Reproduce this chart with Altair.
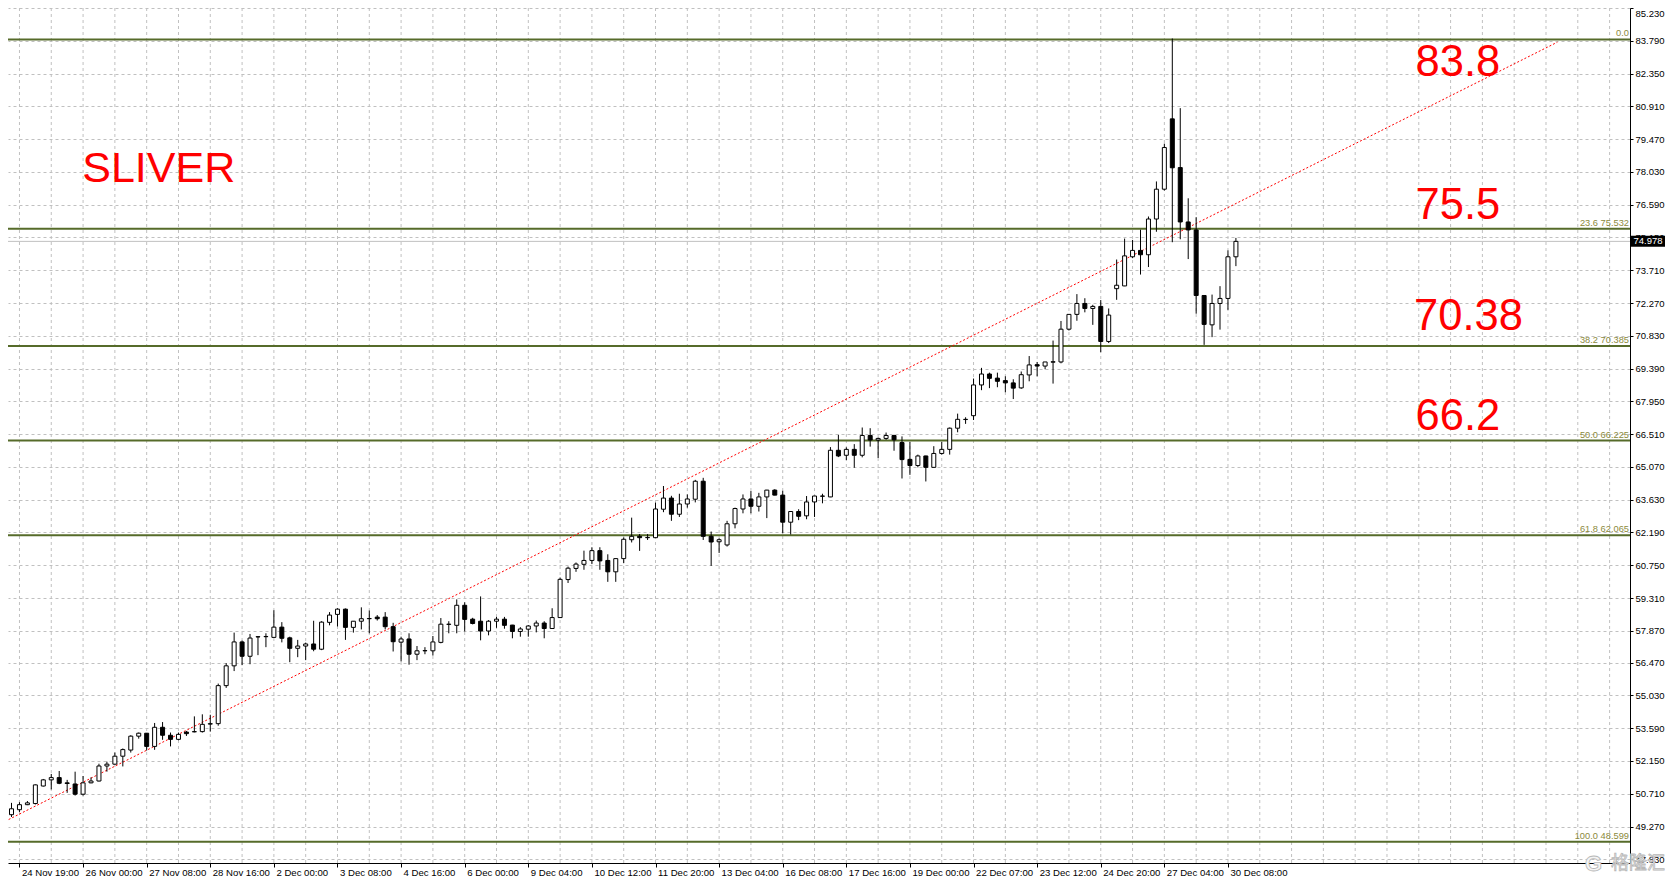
import altair as alt
import pandas as pd

# ---------------- data ----------------
bar_index = list(range(-1, 155))
opens = [49.70, 49.79, 50.01, 50.23, 50.28, 51.05, 51.32, 51.42, 51.19, 51.14,
         50.69, 51.19, 51.27, 51.93, 52.01, 52.36, 52.63, 53.24, 53.37, 52.79,
         53.63, 53.28, 53.10, 53.42, 53.43, 53.44, 53.77, 53.79, 55.46, 56.33,
         57.38, 56.75, 57.60, 57.61, 57.58, 58.03, 57.56, 57.10, 57.20, 57.29,
         57.06, 58.24, 58.59, 58.82, 58.02, 58.29, 58.40, 58.47, 58.47, 58.05,
         57.37, 57.51, 56.84, 56.99, 56.99, 57.36, 58.15, 58.11, 58.99, 58.38,
         58.29, 57.86, 58.29, 58.38, 58.12, 57.84, 57.94, 58.08, 58.21, 57.97,
         58.45, 60.12, 60.61, 60.79, 60.96, 61.39, 60.96, 60.46, 61.04, 61.87,
         62.02, 61.96, 61.96, 63.21, 63.70, 62.99, 63.44, 63.65, 64.44, 62.02,
         61.78, 61.64, 62.57, 63.22, 63.66, 63.34, 63.75, 64.05, 63.83, 62.64,
         63.11, 62.92, 63.53, 63.78, 63.75, 65.80, 65.58, 65.84, 65.58, 66.45,
         66.25, 66.32, 66.45, 66.14, 65.40, 65.13, 65.55, 65.05, 65.66, 65.84,
         66.77, 67.15, 67.32, 68.67, 69.15, 68.97, 68.86, 68.76, 68.54, 69.11,
         69.56, 69.50, 69.67, 69.68, 71.12, 71.77, 72.25, 72.03, 72.12, 70.58,
         72.90, 73.02, 74.30, 74.58, 74.39, 75.96, 77.27, 80.36, 78.22, 75.83,
         75.48, 72.60, 71.31, 72.25, 72.47, 74.30]
highs = [49.95, 50.31, 50.34, 50.39, 51.12, 51.36, 51.58, 51.71, 51.32, 51.68,
         51.49, 51.43, 52.03, 52.12, 52.52, 52.70, 53.28, 53.40, 53.38, 53.82,
         53.86, 53.40, 53.40, 53.47, 54.11, 54.20, 54.18, 55.55, 56.45, 57.79,
         57.44, 57.73, 57.64, 57.76, 58.77, 58.25, 57.61, 57.47, 57.35, 58.31,
         58.29, 58.69, 58.86, 58.85, 58.30, 58.90, 58.76, 58.56, 58.69, 58.22,
         57.61, 57.76, 57.20, 57.15, 57.64, 58.43, 58.29, 59.25, 59.12, 58.44,
         59.38, 58.34, 58.48, 58.48, 58.13, 58.03, 58.12, 58.32, 58.29, 58.86,
         60.21, 60.69, 60.87, 61.39, 61.54, 61.54, 61.23, 61.05, 61.97, 62.84,
         62.12, 62.12, 63.50, 64.23, 63.80, 63.89, 63.86, 64.50, 64.59, 62.23,
         61.93, 62.70, 63.28, 63.86, 64.01, 63.93, 64.06, 64.09, 64.02, 63.12,
         63.21, 63.79, 63.80, 63.89, 65.94, 66.48, 65.93, 66.07, 66.80, 66.77,
         66.36, 66.58, 66.48, 66.41, 66.16, 65.61, 65.56, 65.98, 66.16, 66.80,
         67.41, 67.25, 68.95, 69.42, 69.21, 69.21, 69.05, 68.92, 69.26, 69.94,
         69.68, 69.68, 70.62, 71.48, 71.78, 72.66, 72.48, 72.19, 72.40, 72.03,
         74.18, 75.10, 75.04, 75.49, 76.07, 77.61, 79.27, 83.89, 80.83, 76.87,
         76.04, 72.61, 72.64, 73.01, 74.58, 75.13]
lows = [49.55, 49.69, 49.91, 50.21, 50.24, 51.03, 50.90, 51.13, 50.75, 50.63,
        50.63, 51.17, 51.25, 51.68, 51.99, 51.91, 52.52, 53.13, 52.61, 52.64,
        53.08, 52.79, 53.06, 53.25, 53.41, 53.40, 53.44, 53.70, 55.36, 56.10,
        56.36, 56.40, 56.80, 57.15, 57.56, 57.36, 56.49, 56.71, 56.58, 56.97,
        57.02, 58.11, 58.06, 57.47, 57.79, 57.93, 57.76, 58.32, 57.93, 56.96,
        56.52, 56.38, 56.58, 56.84, 56.78, 57.32, 57.76, 57.76, 57.84, 58.15,
        57.45, 57.67, 58.00, 57.96, 57.54, 57.61, 57.61, 57.80, 57.54, 57.96,
        58.44, 59.97, 60.46, 60.55, 60.80, 60.55, 60.02, 60.02, 60.84, 61.75,
        61.38, 61.86, 61.95, 63.08, 62.70, 62.87, 63.28, 63.51, 61.86, 60.72,
        61.29, 61.57, 62.37, 63.03, 63.03, 63.11, 62.82, 63.82, 62.15, 62.10,
        62.73, 62.77, 62.87, 63.47, 63.74, 65.50, 65.37, 65.03, 65.49, 65.96,
        65.46, 66.26, 65.78, 64.56, 64.72, 65.05, 64.43, 65.04, 65.61, 65.61,
        66.59, 66.96, 67.13, 68.44, 68.53, 68.57, 68.35, 68.05, 68.50, 68.83,
        69.05, 69.36, 68.73, 69.62, 71.06, 71.49, 71.86, 71.31, 70.11, 70.51,
        72.41, 73.01, 74.24, 73.52, 73.85, 75.40, 77.21, 74.94, 75.07, 74.20,
        71.80, 70.43, 70.77, 71.10, 71.97, 73.89]
closes = [49.85, 50.05, 50.23, 50.31, 51.10, 51.32, 51.42, 51.17, 51.16, 50.69,
          51.19, 51.27, 51.93, 52.01, 52.36, 52.65, 53.24, 53.37, 52.79, 53.63,
          53.28, 53.10, 53.32, 53.35, 53.44, 53.76, 53.79, 55.46, 56.33, 57.38,
          56.75, 57.55, 57.61, 57.62, 58.03, 57.54, 57.10, 57.20, 57.29, 57.06,
          58.25, 58.56, 58.82, 58.02, 58.29, 58.40, 58.41, 58.40, 58.05, 57.39,
          57.51, 56.84, 56.99, 57.00, 57.38, 58.16, 58.16, 58.99, 58.37, 58.19,
          57.86, 58.29, 58.38, 58.11, 57.84, 57.95, 58.08, 58.21, 57.97, 58.45,
          60.13, 60.62, 60.80, 60.96, 61.39, 60.94, 60.46, 61.04, 61.89, 62.02,
          61.96, 61.97, 63.22, 63.70, 62.99, 63.44, 63.66, 64.44, 62.02, 61.77,
          61.87, 62.57, 63.24, 63.66, 63.34, 63.75, 64.05, 63.83, 62.64, 63.11,
          62.90, 63.53, 63.79, 63.79, 65.80, 65.55, 65.84, 65.58, 66.45, 66.25,
          66.32, 66.45, 66.26, 65.39, 65.13, 65.55, 65.05, 65.66, 65.84, 66.77,
          67.16, 67.16, 68.67, 69.15, 68.96, 68.83, 68.76, 68.53, 69.12, 69.55,
          69.50, 69.68, 69.69, 71.12, 71.77, 72.25, 72.03, 72.12, 70.58, 71.74,
          73.05, 74.34, 74.58, 74.39, 75.96, 77.27, 79.10, 78.21, 75.83, 75.48,
          72.60, 71.33, 72.25, 72.47, 74.30, 74.978]

fib_pct = ["0.0", "23.6", "38.2", "50.0", "61.8", "100.0"]
fib_price = [83.851, 75.532, 70.385, 66.225, 62.065, 48.599]

trend_index = [-0.81, 194.44]
trend_price = [49.50, 83.73]

last_price = 74.978

xtick_index = [1, 9, 17, 25, 33, 41, 49, 57, 65, 73, 81, 89, 97, 105, 113,
               121, 129, 137, 145, 153]
xtick_labels = ["24 Nov 19:00", "26 Nov 00:00", "27 Nov 08:00", "28 Nov 16:00",
                "2 Dec 00:00", "3 Dec 08:00", "4 Dec 16:00", "6 Dec 00:00",
                "9 Dec 04:00", "10 Dec 12:00", "11 Dec 20:00", "13 Dec 04:00",
                "16 Dec 08:00", "17 Dec 16:00", "19 Dec 00:00", "22 Dec 07:00",
                "23 Dec 12:00", "24 Dec 20:00", "27 Dec 04:00", "30 Dec 08:00"]
vgrid_index = list(range(1, 202, 4))

ytick_labels = ["47.830", "49.270", "50.710", "52.150", "53.590", "55.030",
                "56.470", "57.870", "59.310", "60.750", "62.190", "63.630",
                "65.070", "66.510", "67.950", "69.390", "70.830", "72.270",
                "73.710", "75.150", "76.590", "78.030", "79.470", "80.910",
                "82.350", "83.790", "85.230"]

title_text = ["SLIVER"]
title_index = [8.9]
title_price = [77.58]

note_text = ["83.8", "75.5", "70.38", "66.2"]
note_index = [176.6, 176.6, 176.4, 176.6]
note_price = [82.25, 75.98, 71.10, 66.68]

watermark_logo = ["G"]
watermark = ["格隆汇"]

# ---------------- tables ----------------
candles = pd.DataFrame({"k": bar_index, "o": opens, "h": highs, "l": lows, "c": closes})
candles["fill"] = ["white" if c >= o else "black" for o, c in zip(opens, closes)]
fib = pd.DataFrame({"v": fib_price,
                    "label": [f"{p} {v:.3f}" if p != "0.0" else p for p, v in zip(fib_pct, fib_price)]})
trend = pd.DataFrame({"k": trend_index, "v": trend_price})
vgrid = pd.DataFrame({"k": vgrid_index})
lastdf = pd.DataFrame({"v": [last_price], "t": [f"{last_price:.3f}"]})
titledf = pd.DataFrame({"k": title_index, "v": title_price, "t": title_text})
notedf = pd.DataFrame({"k": note_index, "v": note_price, "t": note_text})
wmdf = pd.DataFrame({"t": watermark})
wlogodf = pd.DataFrame({"t": watermark_logo})

W, H = 1622, 855
FONT = "Liberation Sans"

xscale = alt.Scale(domain=[0.1875, 202.9375], nice=False, zero=False)
yscale = alt.Scale(domain=[47.668, 85.23], nice=False, zero=False)

label_array = "[" + ",".join("'" + s + "'" for s in xtick_labels) + "]"
xaxis = alt.Axis(values=xtick_index, grid=False, domainColor="black", domainWidth=1,
                 tickColor="black", tickSize=4, labelAlign="left", labelBaseline="top",
                 labelPadding=0, labelOffset=2, labelFont=FONT, labelFontSize=9.6,
                 labelColor="black", labelOverlap=False, labelFlush=False,
                 labelBound=False, title=None,
                 labelExpr=label_array + "[round((datum.value - 1) / 8)]")
yaxis = alt.Axis(orient="right", values=[float(s) for s in ytick_labels], format=".3f",
                 grid=True, gridColor="#c0c0c0", gridDash=[3, 3], gridWidth=1,
                 domainColor="black", domainWidth=1, tickColor="black", tickSize=3,
                 labelFont=FONT, labelFontSize=9.5, labelColor="black", labelPadding=2,
                 labelOverlap=False, labelFlush=True, title=None)

X = lambda f: alt.X(f, type="quantitative", scale=xscale, axis=xaxis)
Y = lambda f: alt.Y(f, type="quantitative", scale=yscale, axis=yaxis)

base_grid = alt.Chart(vgrid).mark_rule(color="#c0c0c0", strokeDash=[3, 3], strokeWidth=1).encode(
    x=X("k"))

fib_lines = alt.Chart(fib).mark_rule(color="#566b2a", strokeWidth=2).encode(y=Y("v"))
fib_labels = alt.Chart(fib).mark_text(align="right", baseline="alphabetic", dy=-3,
                                      font=FONT, fontSize=9.3, color="#8c8a3c").encode(
    y=Y("v"), x=alt.value(W - 1), text="label:N")

last_line = alt.Chart(lastdf).mark_rule(color="#c0c0c0", strokeWidth=1).encode(y=Y("v"))

trend_line = alt.Chart(trend).mark_line(color="#ff0000", strokeDash=[2, 2], strokeWidth=1,
                                        clip=True).encode(x=X("k"), y=Y("v"))

wicks = alt.Chart(candles).mark_rule(color="black", strokeWidth=1, clip=True).encode(
    x=X("k"), y=Y("l"), y2="h")
bodies = alt.Chart(candles).mark_bar(size=4, stroke="black", strokeWidth=1, clip=True).encode(
    x=X("k"), y=Y("o"), y2="c", color=alt.Color("fill:N", scale=None))

title_layer = alt.Chart(titledf).mark_text(align="left", baseline="alphabetic", font=FONT,
                                           fontSize=43, color="#ff0000").encode(
    x=X("k"), y=Y("v"), text="t:N")
note_layer = alt.Chart(notedf).mark_text(align="left", baseline="alphabetic", font=FONT,
                                         fontSize=43.5, color="#ff0000").encode(
    x=X("k"), y=Y("v"), text="t:N")

price_box = alt.Chart(lastdf).mark_rule(color="black", strokeWidth=11).encode(
    y=Y("v"), x=alt.value(W + 1), x2=alt.value(W + 35))
price_text = alt.Chart(lastdf).mark_text(align="center", baseline="middle", font=FONT,
                                         fontSize=9.5, color="white").encode(
    y=Y("v"), x=alt.value(W + 18), text="t:N")

wm_logo = alt.Chart(wlogodf).mark_text(align="left", baseline="middle", font=FONT,
                                       fontSize=22, fontWeight="bold", fill="#f4f4f4",
                                       stroke="#b8b8b8", strokeWidth=0.8).encode(
    x=alt.value(W - 45), y=alt.value(H + 1), text="t:N")
wm = alt.Chart(wmdf).mark_text(align="left", baseline="middle", font="Noto Sans CJK SC",
                               fontSize=18, fill="#f4f4f4", stroke="#b8b8b8",
                               strokeWidth=0.8).encode(
    x=alt.value(W - 19), y=alt.value(H + 1), text="t:N")

chart = alt.layer(
    base_grid, fib_lines, last_line, trend_line, wicks, bodies, fib_labels,
    title_layer, note_layer, price_box, price_text, wm_logo, wm
).properties(
    width=W, height=H,
    autosize=alt.AutoSizeParams(type="none"),
    padding={"left": 0, "top": 0, "right": 35, "bottom": 14},
    background="white",
).configure_view(stroke=None)

chart.save("out.html", embed_options={"renderer": "svg", "actions": False})
